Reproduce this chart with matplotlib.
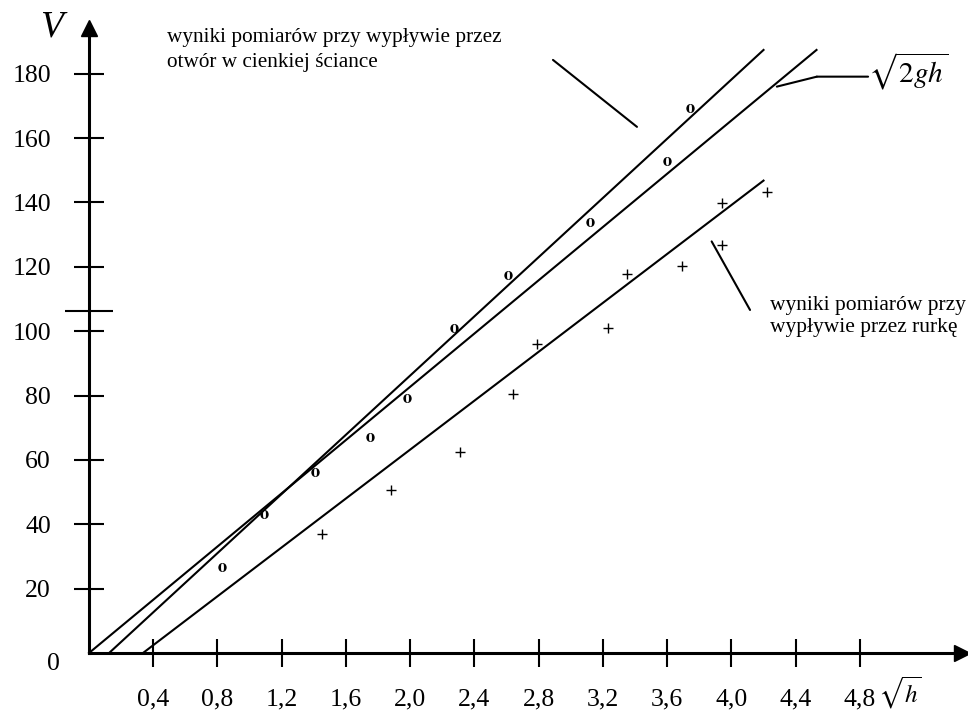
import matplotlib.pyplot as plt

plt.rcParams['font.family'] = ['Liberation Serif', 'DejaVu Serif']
plt.rcParams['mathtext.fontset'] = 'stix'

# wyniki pomiarow - otwor w cienkiej sciance (o)
otwor_x = [0.83, 1.09, 1.41, 1.75, 1.98, 2.27, 2.61, 3.12, 3.60, 3.74]
otwor_v = [26.6, 43.2, 56.3, 67.0, 79.1, 100.9, 117.5, 134.0, 153.0, 169.3]

# wyniki pomiarow - rurka (+)
rurka_x = [1.45, 1.88, 2.31, 2.64, 2.79, 3.23, 3.35, 3.69, 3.94, 3.94, 4.22]
rurka_v = [37.0, 50.7, 62.6, 80.4, 95.9, 101.1, 117.7, 120.2, 126.8, 139.7, 143.2]

# proste (poczatek i koniec)
teoria_x = [0.0, 4.53]
teoria_v = [0.0, 187.4]
otwor_lin_x = [0.125, 4.20]
otwor_lin_v = [0.0, 187.4]
rurka_lin_x = [0.336, 4.20]
rurka_lin_v = [0.0, 146.8]

x_ticks = [0.4, 0.8, 1.2, 1.6, 2.0, 2.4, 2.8, 3.2, 3.6, 4.0, 4.4, 4.8]
x_labels = [f'{t:.1f}'.replace('.', ',') for t in x_ticks]
y_ticks = [20, 40, 60, 80, 100, 120, 140, 160, 180]

W, H = 968, 711


def fig_xy(px, py):
    # piksele -> ulamek figury
    return px / W, 1 - py / H


fig = plt.figure(figsize=(W / 100, H / 100), dpi=100)
ax = fig.add_axes([0, 0, 1, 1])
ax.set_xlim(-0.5542, 5.4732)
ax.set_ylim(-18.02, 202.92)
ax.patch.set_visible(False)

lw = 1.5
ax.plot(teoria_x, teoria_v, color='black', lw=lw)
ax.plot(otwor_lin_x, otwor_lin_v, color='black', lw=lw)
ax.plot(rurka_lin_x, rurka_lin_v, color='black', lw=lw)

ax.plot(otwor_x, otwor_v, ls='none', marker=r'$\mathbf{o}$', ms=6.5, mew=0, color='black')
ax.plot(rurka_x, rurka_v, ls='none', marker='+', ms=7.5, mew=1.0, color='black')

# osie ze strzalkami
for s in ['top', 'right']:
    ax.spines[s].set_visible(False)
ax.spines['left'].set_position(('data', 0))
ax.spines['bottom'].set_position(('data', 0))
ax.spines['left'].set_bounds(0, 194)
ax.spines['bottom'].set_bounds(0, 5.43)
ax.spines['left'].set_linewidth(2.2)
ax.spines['bottom'].set_linewidth(2.2)
ax.plot(5.436, 0, '>k', ms=11, clip_on=False)
ax.plot(0, 194.2, '^k', ms=11, clip_on=False)

ax.set_xticks(x_ticks, x_labels)
ax.set_yticks(y_ticks)
ax.set_yticks([106.3], minor=True)
ax.tick_params(axis='x', direction='inout', length=20, width=1.5, pad=15.5, labelsize=18.5)
ax.tick_params(axis='y', direction='inout', length=21, width=1.5, pad=17, labelsize=18.5)
ax.tick_params(axis='y', which='minor', direction='inout', length=35, width=1.5)
ax.tick_params(axis='x', which='minor', bottom=False)

ax.annotate('0', xy=(0, 0), xytext=(-36, -11), textcoords='offset pixels',
            ha='center', va='center', fontsize=18.5)

# opisy osi
fig.text(*fig_xy(51, 27), 'V', style='italic', fontsize=27, ha='center', va='center')
fig.text(*fig_xy(900, 693), r'$\sqrt{h}$', fontsize=18, ha='center', va='center')

# opisy prostych
fig.text(*fig_xy(167, 28), 'wyniki pomiarów przy wypływie przez\notwór w cienkiej ściance',
         fontsize=15.3, ha='left', va='top', linespacing=1.4)
fig.text(*fig_xy(770, 296), 'wyniki pomiarów przy\nwypływie przez rurkę',
         fontsize=15.5, ha='left', va='top', linespacing=1.2)
fig.text(*fig_xy(868, 71), r'$\sqrt{2gh}$', fontsize=21, ha='left', va='center')

line_kw = dict(arrowstyle='-', lw=lw, color='black', shrinkA=0, shrinkB=0)
ax.annotate('', xy=(3.412, 163.5), xytext=(2.889, 184.3), arrowprops=line_kw)
ax.annotate('', xy=(4.283, 176.0), xytext=(4.532, 179.1), arrowprops=line_kw)
ax.annotate('', xy=(4.532, 179.1), xytext=(4.851, 179.1), arrowprops=line_kw)
ax.annotate('', xy=(4.116, 106.6), xytext=(3.877, 127.9), arrowprops=line_kw)

fig.savefig('out.png', dpi=100)
